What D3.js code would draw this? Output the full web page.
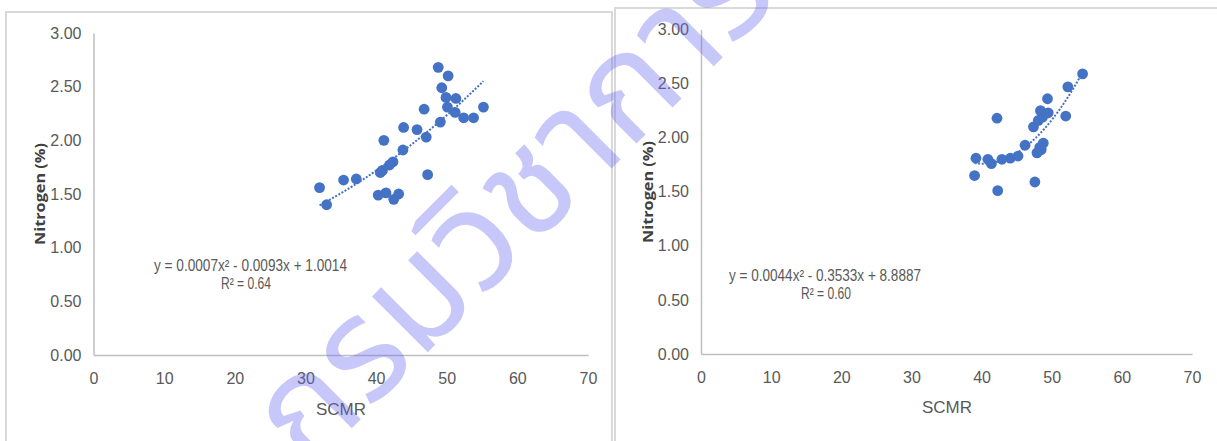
<!DOCTYPE html>
<html>
<head>
<meta charset="utf-8">
<script src="https://cdn.jsdelivr.net/npm/d3@7"></script>
<style>
  html, body { margin: 0; padding: 0; background: #ffffff; }
  svg { display: block; }
</style>
</head>
<body>
<svg id="chart" width="1217" height="441"></svg>
<script>
// ---------------- DATA ----------------
const xTickValues = [0, 10, 20, 30, 40, 50, 60, 70];
const yTickValues = [0, 0.5, 1.0, 1.5, 2.0, 2.5, 3.0];
const xTitle = "SCMR";
const yTitle = "Nitrogen (%)";

// Left chart
const leftSCMR = [48.8, 50.2, 49.3, 49.9, 51.3, 46.8, 50.1, 55.2, 51.2, 52.4,
                  53.8, 49.1, 43.9, 45.8, 41.1, 47.1, 43.8, 42.4, 41.9, 40.9,
                  40.6, 47.3, 35.4, 37.2, 32.0, 40.3, 41.4, 43.2, 42.5, 33.0];
const leftN    = [2.68, 2.60, 2.49, 2.40, 2.39, 2.29, 2.31, 2.31, 2.26, 2.21,
                  2.21, 2.17, 2.12, 2.10, 2.00, 2.03, 1.91, 1.80, 1.77, 1.72,
                  1.70, 1.68, 1.63, 1.64, 1.56, 1.49, 1.51, 1.50, 1.45, 1.40];
const leftEquation = "y = 0.0007x² - 0.0093x + 1.0014";
const leftR2 = "R² = 0.64";

// Right chart
const rightSCMR = [54.4, 52.3, 49.4, 48.4, 49.5, 48.7, 52.0, 42.2, 47.4, 46.2,
                   48.8, 48.5, 47.9, 39.2, 40.9, 41.4, 42.9, 44.1, 45.2, 39.0,
                   47.6, 42.3, 48.1, 48.3];
const rightN    = [2.59, 2.47, 2.36, 2.25, 2.23, 2.19, 2.20, 2.18, 2.10, 1.93,
                   1.95, 1.89, 1.86, 1.81, 1.80, 1.76, 1.80, 1.81, 1.83, 1.65,
                   1.59, 1.51, 2.16, 1.91];
const rightEquation = "y = 0.0044x² - 0.3533x + 8.8887";
const rightR2 = "R² = 0.60";

const watermarkText = "กรมวิชาการเกษตร";

// ---------------- HELPERS ----------------
function quadFit(xs, ys) {
  // least squares fit y = a x^2 + b x + c
  const S = [0, 0, 0, 0, 0], T = [0, 0, 0];
  xs.forEach((x, i) => {
    let p = 1;
    for (let k = 0; k <= 4; k++) { S[k] += p; if (k <= 2) T[k] += p * ys[i]; p *= x; }
  });
  const M = [[S[0], S[1], S[2], T[0]], [S[1], S[2], S[3], T[1]], [S[2], S[3], S[4], T[2]]];
  for (let i = 0; i < 3; i++) {
    let piv = i;
    for (let r = i + 1; r < 3; r++) if (Math.abs(M[r][i]) > Math.abs(M[piv][i])) piv = r;
    [M[i], M[piv]] = [M[piv], M[i]];
    for (let r = 0; r < 3; r++) {
      if (r === i) continue;
      const f = M[r][i] / M[i][i];
      for (let c = i; c < 4; c++) M[r][c] -= f * M[i][c];
    }
  }
  const c = M[0][3] / M[0][0], b = M[1][3] / M[1][1], a = M[2][3] / M[2][2];
  return x => a * x * x + b * x + c;
}

const svg = d3.select("#chart");
const BLUE = "#4472C4";
const GRID = "#bfbfbf";
const TXT = "#595959";
const FONT = "'Liberation Sans Narrow', 'Liberation Sans', Arial, sans-serif";

// panel borders
svg.append("rect").attr("x", 6).attr("y", 12).attr("width", 606).attr("height", 460)
  .attr("fill", "#fff").attr("stroke", "#d9d9d9").attr("stroke-width", 2);
svg.append("rect").attr("x", 615).attr("y", 8).attr("width", 700).attr("height", 460)
  .attr("fill", "#fff").attr("stroke", "#d9d9d9").attr("stroke-width", 2);

function drawChart(cfg) {
  const x = d3.scaleLinear().domain([0, 70]).range([cfg.x0, cfg.x1]);
  const y = d3.scaleLinear().domain([0, 3]).range([cfg.y0, cfg.y1]);
  const g = svg.append("g");

  const xAxis = d3.axisBottom(x).tickValues(xTickValues).tickSize(0).tickPadding(0).tickFormat(d3.format("d"));
  const gx = g.append("g").attr("transform", `translate(0,${cfg.y0})`).call(xAxis);
  gx.select(".domain").attr("stroke", GRID).attr("stroke-width", 1.5);
  gx.selectAll("text").attr("fill", TXT).attr("font-family", FONT).attr("font-size", 16)
    .attr("dy", null).attr("y", 29);

  const yAxis = d3.axisLeft(y).tickValues(yTickValues).tickSize(0).tickPadding(12).tickFormat(d3.format(".2f"));
  const gy = g.append("g").attr("transform", `translate(${cfg.x0},0)`).call(yAxis);
  gy.select(".domain").attr("stroke", GRID).attr("stroke-width", 1.5);
  gy.selectAll("text").attr("fill", TXT).attr("font-family", FONT).attr("font-size", 16);

  g.append("text").attr("x", cfg.xTitleX).attr("y", cfg.xTitleY).attr("text-anchor", "middle")
    .attr("fill", TXT).attr("font-family", FONT).attr("font-size", 17).text(xTitle);
  g.append("text").attr("transform", `translate(${cfg.yTitleX},${cfg.yTitleY}) rotate(-90)`)
    .attr("text-anchor", "middle").attr("fill", "#404040")
    .attr("font-family", "'Open Sans', 'DejaVu Sans', sans-serif").attr("font-weight", "bold")
    .attr("font-size", 15).attr("textLength", 102).attr("lengthAdjust", "spacingAndGlyphs")
    .text(yTitle);

  g.append("g").selectAll("circle").data(cfg.xs.map((v, i) => [v, cfg.ys[i]]))
    .join("circle").attr("cx", d => x(d[0])).attr("cy", d => y(d[1])).attr("r", 5.4)
    .attr("fill", BLUE);

  const f = quadFit(cfg.xs, cfg.ys);
  const [mn, mx] = d3.extent(cfg.xs);
  const pts = d3.range(0, 61).map(i => { const v = mn + (mx - mn) * i / 60; return [v, f(v)]; });
  g.append("path").attr("d", d3.line().x(d => x(d[0])).y(d => y(d[1]))(pts))
    .attr("fill", "none").attr("stroke", BLUE).attr("stroke-width", 2)
    .attr("stroke-dasharray", "2,1.6");

  g.append("text").attr("x", cfg.eqX).attr("y", cfg.eqY).attr("fill", TXT).attr("font-family", FONT)
    .attr("font-size", 16).attr("textLength", cfg.eqW).attr("lengthAdjust", "spacingAndGlyphs").text(cfg.eq);
  g.append("text").attr("x", cfg.r2X).attr("y", cfg.r2Y).attr("fill", TXT).attr("font-family", FONT)
    .attr("font-size", 16).attr("textLength", cfg.r2W).attr("lengthAdjust", "spacingAndGlyphs").text(cfg.r2);
}

drawChart({
  x0: 93.5, x1: 588, y0: 355, y1: 33,
  xs: leftSCMR, ys: leftN,
  xTitleX: 341, xTitleY: 415, yTitleX: 45, yTitleY: 194,
  eq: leftEquation, eqX: 154, eqY: 271, eqW: 193,
  r2: leftR2, r2X: 221, r2Y: 289, r2W: 50
});
drawChart({
  x0: 701, x1: 1192, y0: 354, y1: 29.5,
  xs: rightSCMR, ys: rightN,
  xTitleX: 947, xTitleY: 413, yTitleX: 653, yTitleY: 192,
  eq: rightEquation, eqX: 729, eqY: 281, eqW: 192,
  r2: rightR2, r2X: 801, r2Y: 299, r2W: 50
});

// watermark
svg.append("text").attr("transform", "translate(308,472) rotate(-45)")
  .attr("font-family", "'Noto Sans Thai', 'Noto Sans', 'DejaVu Sans', sans-serif")
  .attr("font-size", 144).attr("fill", "#6464ee").attr("fill-opacity", 0.36)
  .text(watermarkText);
</script>
</body>
</html>
